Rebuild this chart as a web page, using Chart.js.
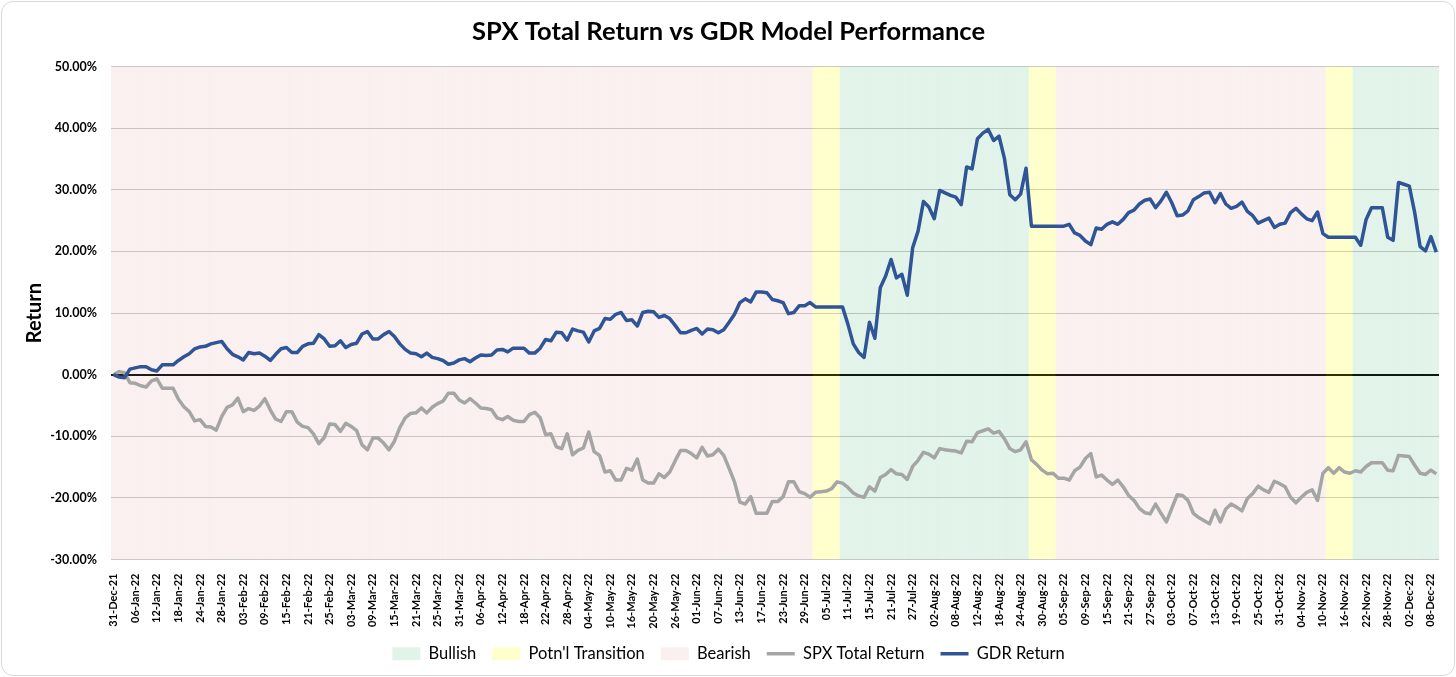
<!DOCTYPE html>
<html>
<head>
<meta charset="utf-8">
<script src="https://cdn.jsdelivr.net/npm/chart.js@4.4.0/dist/chart.umd.min.js"></script>
<style>
  html, body { margin: 0; padding: 0; background: #fff; }
  #wrap { position: relative; width: 1456px; height: 677px; }
  #frame { position: absolute; left: 1px; top: 1px; right: 1px; bottom: 1px;
           border: 1.5px solid #d9d9d9; border-radius: 12px; pointer-events: none; }
</style>
</head>
<body>
<div id="wrap">
  <canvas id="chart" width="1456" height="677"></canvas>
  <div id="frame"></div>
</div>
<script>
// trading calendar: weekdays from 31-Dec-21, 246 entries (ends 09-Dec-22)
const startDate = '2021-12-31';
const dayCount = 246;
const labelEvery = 4;

// regime runs, in order, as [name, number of days]
const regimeRuns = [
    ['Bearish', 130],
    ['Potn\'l Transition', 5],
    ['Bullish', 35],
    ['Potn\'l Transition', 5],
    ['Bearish', 50],
    ['Potn\'l Transition', 5],
    ['Bullish', 16]
];

// cumulative returns, percent
const spxReturn = [
    0, 0.5, 0.3, -1.3, -1.4, -1.8, -2.0, -1.0, -0.7, -2.2,
    -2.2, -2.2, -4.0, -5.2, -6.0, -7.5, -7.3, -8.4, -8.5, -9.0,
    -6.8, -5.3, -4.9, -3.8, -6.0, -5.5, -5.8, -5.1, -3.9, -5.7,
    -7.2, -7.6, -6.0, -6.0, -7.7, -8.4, -8.6, -9.6, -11.2, -10.2,
    -8.0, -8.1, -9.2, -7.9, -8.4, -9.1, -11.4, -12.2, -10.3, -10.3,
    -11.1, -12.2, -10.8, -8.6, -7.0, -6.3, -6.2, -5.4, -6.2, -5.3,
    -4.7, -4.3, -3.0, -3.0, -4.1, -4.6, -3.9, -4.6, -5.4, -5.5,
    -5.7, -7.0, -7.3, -6.8, -7.4, -7.6, -7.6, -6.5, -6.1, -7.0,
    -9.7, -9.6, -11.7, -12.0, -9.6, -13.0, -12.3, -11.9, -9.3, -12.5,
    -13.1, -15.8, -15.6, -17.1, -17.1, -15.2, -15.5, -13.7, -17.1, -17.6,
    -17.6, -16.1, -16.7, -15.8, -14.0, -12.3, -12.3, -12.8, -13.5, -11.8,
    -13.2, -13.0, -12.1, -13.1, -15.2, -17.4, -20.7, -21.0, -19.8, -22.5,
    -22.5, -22.5, -20.6, -20.6, -19.8, -17.4, -17.4, -19.0, -19.3, -19.9,
    -19.1, -19.0, -18.9, -18.5, -17.4, -17.6, -18.3, -19.2, -19.7, -19.9,
    -18.2, -18.9, -16.7, -16.2, -15.4, -16.1, -16.2, -17.0, -14.9, -13.9,
    -12.6, -12.9, -13.5, -12.0, -12.2, -12.3, -12.4, -12.7, -10.8, -10.9,
    -9.4, -9.1, -8.8, -9.5, -9.2, -10.4, -12.0, -12.5, -12.2, -10.9,
    -13.8, -14.6, -15.5, -16.1, -16.0, -16.8, -16.8, -17.1, -15.6, -15.0,
    -13.6, -12.8, -16.6, -16.3, -17.1, -17.8, -17.1, -18.2, -19.6, -20.4,
    -21.7, -22.4, -22.6, -21.0, -22.5, -23.9, -21.7, -19.5, -19.6, -20.4,
    -22.5, -23.2, -23.7, -24.2, -22.0, -23.9, -21.8, -21.0, -21.5, -22.1,
    -20.1, -19.3, -18.1, -18.7, -19.1, -17.3, -17.7, -18.2, -19.9, -20.8,
    -19.9, -19.1, -18.7, -20.4, -16.0, -15.1, -16.0, -15.1, -15.8, -16.0,
    -15.6, -15.8, -14.9, -14.3, -14.3, -14.3, -15.5, -15.6, -13.1, -13.2,
    -13.3, -14.7, -16.0, -16.2, -15.5, -16.1
];

const gdrReturn = [
    0, -0.4, -0.5, 0.9, 1.1, 1.3, 1.3, 0.8, 0.6, 1.6,
    1.6, 1.6, 2.3, 2.9, 3.4, 4.2, 4.5, 4.6, 5.0, 5.2,
    5.4, 4.2, 3.3, 2.9, 2.4, 3.6, 3.4, 3.5, 3.0, 2.3,
    3.3, 4.2, 4.4, 3.6, 3.6, 4.6, 5.0, 5.1, 6.5, 5.8,
    4.6, 4.7, 5.5, 4.4, 4.9, 5.1, 6.6, 7.0, 5.8, 5.8,
    6.5, 7.0, 6.2, 5.0, 4.1, 3.5, 3.4, 2.9, 3.5, 2.8,
    2.6, 2.3, 1.7, 1.9, 2.4, 2.6, 2.1, 2.7, 3.2, 3.1,
    3.2, 4.0, 4.1, 3.7, 4.3, 4.3, 4.3, 3.5, 3.5, 4.3,
    5.7, 5.5, 6.9, 6.8, 5.6, 7.4, 7.1, 6.9, 5.3, 7.1,
    7.5, 9.1, 9.0, 9.8, 10.1, 8.8, 8.9, 7.9, 10.1, 10.3,
    10.2, 9.3, 9.6, 9.1, 8.0, 6.8, 6.8, 7.2, 7.5, 6.6,
    7.4, 7.3, 6.8, 7.3, 8.5, 9.8, 11.7, 12.3, 11.8, 13.4,
    13.4, 13.3, 12.2, 12.0, 11.7, 9.9, 10.1, 11.2, 11.2, 11.7,
    11.0, 11.0, 11.0, 11.0, 11.0, 11.0, 8.2, 5.0, 3.6, 2.8,
    8.5, 5.9, 14.1, 16.0, 18.7, 15.7, 16.3, 12.9, 20.6, 23.3,
    28.1, 27.2, 25.3, 29.9, 29.5, 29.1, 28.8, 27.6, 33.7, 33.4,
    38.3, 39.2, 39.8, 38.0, 38.7, 35.1, 29.2, 28.4, 29.3, 33.5,
    24.1, 24.1, 24.1, 24.1, 24.1, 24.1, 24.1, 24.4, 23.0, 22.6,
    21.7, 21.1, 23.8, 23.6, 24.4, 24.8, 24.4, 25.2, 26.3, 26.7,
    27.7, 28.3, 28.5, 27.1, 28.2, 29.6, 27.9, 25.8, 25.9, 26.6,
    28.4, 28.9, 29.5, 29.6, 27.9, 29.4, 27.7, 27.0, 27.3, 28.0,
    26.5, 25.8, 24.6, 25.0, 25.4, 23.9, 24.4, 24.6, 26.3, 27.0,
    26.1, 25.3, 25.0, 26.4, 22.9, 22.3, 22.3, 22.3, 22.3, 22.3,
    22.3, 21.0, 25.2, 27.1, 27.1, 27.1, 22.3, 21.8, 31.2, 30.9,
    30.6, 26.3, 20.8, 20.1, 22.4, 19.9
];

const yTicks = { min: -30, max: 50, step: 10 };

const months = ['Jan', 'Feb', 'Mar', 'Apr', 'May', 'Jun', 'Jul', 'Aug', 'Sep', 'Oct', 'Nov', 'Dec'];

function buildDates() {
    const out = [];
    const d = new Date(startDate + 'T00:00:00Z');
    while (out.length < dayCount) {
        const wd = d.getUTCDay();
        if (wd !== 0 && wd !== 6) {
            const dd = String(d.getUTCDate()).padStart(2, '0');
            const yy = String(d.getUTCFullYear()).slice(2);
            out.push(dd + '-' + months[d.getUTCMonth()] + '-' + yy);
        }
        d.setUTCDate(d.getUTCDate() + 1);
    }
    return out;
}

function regimeSeries(name) {
    const out = [];
    regimeRuns.forEach(([r, n]) => {
        for (let k = 0; k < n; k++) out.push(r === name ? 1 : null);
    });
    return out;
}

const dates = buildDates();
const font = 'Lato';

function band(label, color) {
    return {
        type: 'bar',
        label: label,
        data: regimeSeries(label),
        yAxisID: 'yBand',
        backgroundColor: color,
        borderWidth: 0,
        barPercentage: 1,
        categoryPercentage: 1,
        grouped: false,
        inflateAmount: 0,
        pointStyle: 'rect',
        order: 3
    };
}

function line(label, data, color, order) {
    return {
        type: 'line',
        label: label,
        data: data,
        yAxisID: 'y',
        borderColor: color,
        backgroundColor: color,
        borderWidth: 3.5,
        pointRadius: 0,
        pointBorderWidth: 3.5,
        pointStyle: 'line',
        tension: 0,
        borderJoinStyle: 'round',
        order: order
    };
}

new Chart(document.getElementById('chart'), {
    data: {
        labels: dates,
        datasets: [
            band('Bullish', 'rgba(62, 182, 115, 0.15)'),
            band('Potn\'l Transition', 'rgba(255, 255, 0, 0.2)'),
            band('Bearish', 'rgba(230, 160, 160, 0.16)'),
            line('SPX Total Return', spxReturn, '#a5a5a5', 2),
            line('GDR Return', gdrReturn, '#2f5597', 1)
        ]
    },
    options: {
        responsive: false,
        animation: false,
        layout: { padding: { left: 18, right: 17, top: 0, bottom: 5 } },
        plugins: {
            tooltip: { enabled: false },
            title: {
                display: true,
                text: 'SPX Total Return vs GDR Model Performance',
                color: '#000',
                font: { family: font, size: 25.5, weight: 'bold' },
                padding: { top: 16, bottom: 20 }
            },
            legend: {
                position: 'bottom',
                labels: {
                    usePointStyle: true,
                    pointStyleWidth: 28,
                    boxHeight: 13,
                    padding: 16,
                    color: '#000',
                    font: { family: font, size: 16.5 },
                    sort: (a, b) => a.datasetIndex - b.datasetIndex
                }
            }
        },
        scales: {
            x: {
                type: 'category',
                offset: true,
                grid: { display: false },
                border: { display: false },
                ticks: {
                    autoSkip: false,
                    maxRotation: 90,
                    minRotation: 90,
                    padding: 6,
                    color: '#000',
                    font: { family: font, size: 11, weight: 'bold' },
                    callback: function (val, idx) {
                        return idx % labelEvery === 0 ? this.getLabelForValue(val) : null;
                    }
                },
                afterFit: s => { s.height = 70; }
            },
            y: {
                min: yTicks.min,
                max: yTicks.max,
                border: { display: false },
                grid: {
                    drawTicks: false,
                    color: c => c.tick.value === 0 ? '#000' : '#c9c9c9',
                    lineWidth: c => c.tick.value === 0 ? 2 : 1
                },
                ticks: {
                    stepSize: yTicks.step,
                    padding: 14,
                    color: '#000',
                    font: { family: font, size: 12.5, weight: 'bold' },
                    callback: v => v.toFixed(2) + '%'
                },
                title: {
                    display: true,
                    text: 'Return',
                    color: '#000',
                    font: { family: font, size: 20, weight: 'bold' },
                    padding: { top: 5, bottom: 0 }
                },
                afterFit: s => { s.width = 93; }
            },
            yBand: {
                display: false,
                min: 0,
                max: 1
            }
        }
    }
});
</script>
</body>
</html>
